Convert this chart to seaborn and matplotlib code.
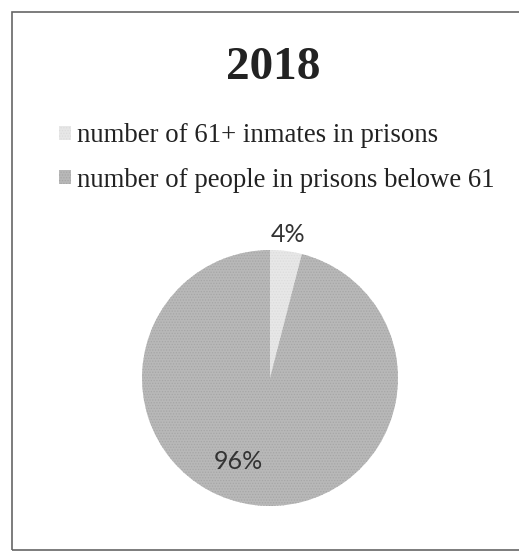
import matplotlib
matplotlib.use("Agg")
import matplotlib.pyplot as plt
from matplotlib.patches import Rectangle, Patch
import seaborn as sns

sns.set_theme(style="white")
plt.rcParams['font.family'] = ['Liberation Serif', 'DejaVu Serif']
plt.rcParams['hatch.linewidth'] = 0.6

title = "2018"
categories = ["number of 61+ inmates in prisons", "number of people in prisons belowe 61"]
values = [4, 96]
colors = ["#e7e7e7", "#b8b8b8"]
hatch_colors = ["#dcdcdc", "#a6a6a6"]

fig = plt.figure(figsize=(5.19, 5.55), dpi=100)
fig.patch.set_facecolor("white")

# outer frame
fig.patches.append(Rectangle((12/519, 5/555), 1.2, 538/555, transform=fig.transFigure,
                             fill=False, edgecolor="#666666", linewidth=1.2, zorder=0))

fig.text(273/519, 1 - 68/555, title, ha="center", va="center",
         fontsize=34, fontweight="bold", color="#222222")

ax = fig.add_axes([(270 - 128)/519, (555 - 378 - 128)/555, 256/519, 256/555])
wedges, texts, autotexts = ax.pie(values, colors=colors, startangle=90, counterclock=False,
                                  autopct=lambda p: f"{p:.0f}%", pctdistance=1.13,
                                  wedgeprops=dict(linewidth=0),
                                  textprops=dict(family=['Lato', 'DejaVu Sans'],
                                                 fontsize=18, color="#333333"))
for w, hc in zip(wedges, hatch_colors):
    w.set_hatch("......")
    w.set_edgecolor(hc)
autotexts[1].set_position((-0.25, -0.65))
ax.set_xlim(-1, 1)
ax.set_ylim(-1, 1)
ax.set_aspect("equal")
ax.axis("off")

handles = [Patch(facecolor=c, edgecolor=h, hatch="......", linewidth=0) for c, h in zip(colors, hatch_colors)]
leg = fig.legend(handles, categories, loc="upper left", bbox_to_anchor=(46/519, 1 - 110/555),
                 frameon=False, fontsize=19.3, handlelength=0.45, handleheight=0.45,
                 handletextpad=0.2, labelspacing=0.72, borderpad=0)
for t in leg.get_texts():
    t.set_color("#222222")

fig.savefig("out.png", dpi=100, facecolor="white")
